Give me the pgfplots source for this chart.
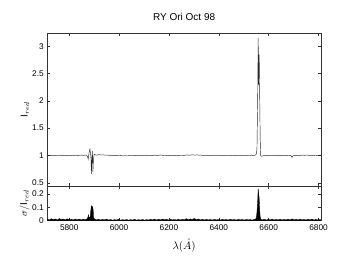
\documentclass[border=0pt]{standalone}
\usepackage{pgfplots}
\pgfplotsset{compat=1.18}
\usepackage{fontspec}
\setmainfont{Liberation Sans}
\pgfplotstableread{
x y
5712 1.002
5720 0.998
5728 1.004
5736 0.996
5744 1.001
5752 0.999
5760 1.006
5768 0.997
5776 1.003
5784 1.000
5792 0.995
5800 1.004
5808 1.002
5816 0.997
5824 1.005
5832 0.999
5840 1.003
5848 1.008
5856 1.001
5864 1.006
5870 1.004
5874 0.97
5876 0.93
5878 1.00
5881 1.08
5883 1.12
5885 1.05
5887 0.98
5889 0.66
5891 0.95
5893 1.08
5895 0.70
5897 0.92
5900 1.02
5904 1.012
5912 1.006
5920 1.015
5928 1.008
5936 1.011
5944 1.004
5952 1.009
5960 1.002
5968 0.998
5976 1.003
5984 0.996
5992 0.999
6000 0.994
6008 0.997
6016 0.992
6024 0.996
6032 0.993
6040 0.997
6048 0.994
6056 0.998
6064 0.995
6072 0.999
6080 0.996
6088 1.000
6096 0.997
6104 1.001
6112 0.995
6120 0.999
6128 1.003
6136 0.997
6144 1.006
6152 0.999
6160 1.004
6168 1.009
6176 1.001
6184 1.005
6192 0.998
6200 1.003
6208 1.000
6216 0.996
6224 1.001
6232 0.998
6240 1.002
6248 1.005
6256 0.999
6264 1.003
6272 1.010
6280 1.004
6288 1.008
6296 1.013
6304 1.006
6312 1.010
6320 1.004
6328 1.007
6336 1.001
6344 1.004
6352 0.999
6360 1.003
6368 1.000
6376 0.997
6384 1.001
6392 0.998
6400 1.002
6408 0.999
6416 0.996
6424 1.001
6432 0.998
6440 1.002
6448 0.997
6456 1.000
6464 0.996
6472 1.001
6480 0.998
6488 1.003
6496 0.999
6504 1.002
6512 0.997
6520 1.000
6528 0.998
6536 1.001
6544 0.999
6550 1.02
6553 1.10
6556 2.05
6558 3.15
6560 2.30
6562 2.85
6564 2.10
6566 1.30
6568 1.00
6570 0.985
6574 0.99
6580 0.995
6588 0.998
6596 0.996
6604 1.000
6612 0.997
6620 0.999
6628 0.996
6636 0.998
6644 0.995
6652 0.997
6660 0.999
6668 0.996
6676 0.998
6684 1.001
6690 0.995
6694 0.965
6698 0.992
6704 1.003
6712 1.000
6720 1.004
6728 1.001
6736 1.005
6744 1.002
6752 1.006
6760 1.003
6768 0.999
6776 1.002
6784 0.998
6792 1.001
6800 0.997
6808 1.000
}\spec
\pgfplotstableread{
x y
5712 0.012
5720 0.006
5728 0.015
5736 0.008
5744 0.013
5752 0.005
5760 0.016
5768 0.009
5776 0.012
5784 0.006
5792 0.014
5800 0.008
5808 0.011
5816 0.005
5824 0.013
5832 0.007
5840 0.012
5848 0.006
5856 0.011
5864 0.008
5870 0.012
5874 0.020
5877 0.045
5879 0.020
5884 0.030
5888 0.100
5890 0.112
5892 0.090
5894 0.105
5896 0.080
5898 0.020
5902 0.012
5910 0.006
5918 0.011
5926 0.005
5934 0.010
5942 0.006
5950 0.012
5958 0.005
5966 0.009
5974 0.004
5982 0.008
5990 0.005
5998 0.010
6006 0.004
6014 0.008
6022 0.005
6030 0.009
6038 0.004
6046 0.008
6054 0.005
6062 0.010
6070 0.004
6078 0.008
6086 0.005
6094 0.009
6102 0.004
6110 0.008
6118 0.005
6126 0.010
6134 0.006
6142 0.012
6150 0.005
6158 0.011
6166 0.006
6174 0.013
6182 0.007
6190 0.011
6198 0.005
6206 0.010
6214 0.006
6222 0.009
6230 0.005
6238 0.011
6246 0.006
6254 0.010
6262 0.007
6270 0.015
6278 0.008
6286 0.013
6294 0.009
6302 0.017
6310 0.008
6318 0.012
6326 0.006
6334 0.011
6342 0.005
6350 0.010
6358 0.006
6366 0.009
6374 0.005
6382 0.010
6390 0.006
6398 0.009
6406 0.005
6414 0.010
6422 0.006
6430 0.009
6438 0.005
6446 0.011
6454 0.006
6462 0.009
6470 0.005
6478 0.010
6486 0.006
6494 0.009
6502 0.005
6510 0.010
6518 0.006
6526 0.009
6534 0.005
6542 0.010
6548 0.012
6551 0.030
6553 0.060
6556 0.150
6558 0.240
6560 0.200
6562 0.170
6564 0.080
6566 0.030
6568 0.012
6574 0.006
6582 0.011
6590 0.005
6598 0.010
6606 0.006
6614 0.012
6622 0.005
6630 0.010
6638 0.006
6646 0.011
6654 0.005
6662 0.010
6670 0.006
6678 0.012
6686 0.005
6694 0.014
6702 0.006
6710 0.011
6718 0.005
6726 0.012
6734 0.006
6742 0.010
6750 0.005
6758 0.011
6766 0.006
6774 0.012
6782 0.005
6790 0.010
6798 0.006
6808 0.009
}\sig
\begin{document}
\begin{tikzpicture}
\useasboundingbox (0pt,0pt) rectangle (341pt,256pt);
\pgfplotsset{
  every axis/.append style={
    scale only axis, width=273.7pt,
    xmin=5712, xmax=6810,
    xtick={5800,6000,...,6800},
    tick align=inside, tickpos=both,
    major tick length=3pt,
    axis line style={line width=0.5pt, black!80},
    tick style={line width=0.4pt, black!80},
    tick label style={font=\fontsize{8.3}{9}\selectfont},
    /pgf/number format/assume math mode=true,
    clip=true,
  },
}
\begin{axis}[
  at={(47.3pt,70pt)}, anchor=south west,
  height=152.7pt,
  ymin=0.44, ymax=3.24,
  ytick={0.5,1,1.5,2,2.5,3},
  yticklabels={0.5,1,1.5,2,2.5,3},
  xticklabels={},
  title={RY Ori Oct 98},
  title style={font=\fontsize{10}{11}\selectfont, at={(axis description cs:0.5,1)}, anchor=south, yshift=3pt},
  ylabel={$\mathrm{I}_{red}$},
  ylabel style={at={(axis description cs:-0.0815,0.5)}, anchor=center, font=\fontsize{10}{11}\selectfont},
]
\addplot[black!85, line width=0.45pt] table[x=x,y=y] {\spec};
\end{axis}
\begin{axis}[
  at={(47.3pt,35.3pt)}, anchor=south west,
  height=34.7pt,
  ymin=0, ymax=0.26,
  ytick={0,0.1,0.2},
  yticklabels={0,0.1,0.2},
  xticklabels={5800,6000,6200,6400,6600,6800},
  xlabel={$\lambda(\mathring{A})$},
  xlabel style={font=\fontsize{11}{12}\selectfont, at={(axis description cs:0.5,0)}, anchor=north, yshift=-14.5pt},
  ylabel={$\sigma/\mathrm{I}_{red}$},
  ylabel style={at={(axis description cs:-0.083,0.5)}, anchor=center, font=\fontsize{10}{11}\selectfont},
]
\addplot[black, fill=black, line width=0.3pt] table[x=x,y=y] {\sig} \closedcycle;
\end{axis}
\end{tikzpicture}
\end{document}
